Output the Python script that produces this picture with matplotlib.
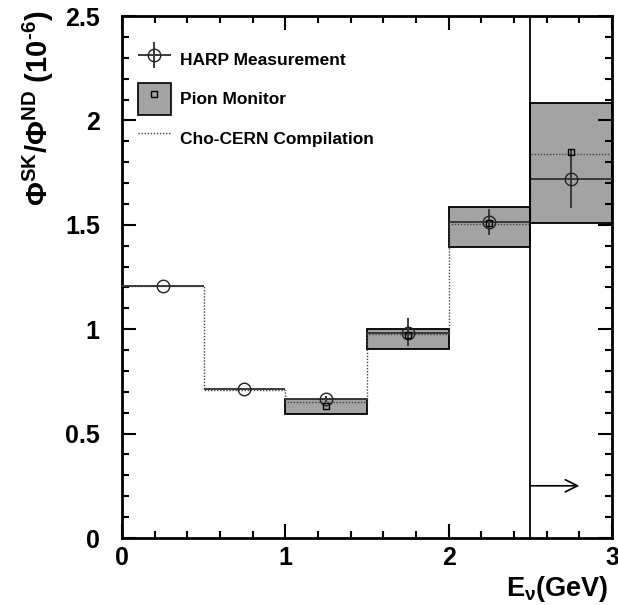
import matplotlib
matplotlib.use("Agg")
import matplotlib.pyplot as plt
import numpy as np
from matplotlib.patches import Patch
from matplotlib.lines import Line2D
from matplotlib.legend_handler import HandlerErrorbar, HandlerTuple

plt.rcParams['font.family'] = ['Liberation Sans', 'DejaVu Sans']
plt.rcParams['font.weight'] = 'bold'
plt.rcParams['mathtext.fontset'] = 'custom'
plt.rcParams['mathtext.rm'] = 'Liberation Sans:bold'
plt.rcParams['mathtext.it'] = 'Liberation Sans:bold'
plt.rcParams['mathtext.bf'] = 'Liberation Sans:bold'
plt.rcParams['mathtext.sf'] = 'Liberation Sans:bold'

# ---- data ----
bin_edges = [0.0, 0.5, 1.0, 1.5, 2.0, 2.5, 3.0]
harp = [1.205, 0.713, 0.665, 0.983, 1.515, 1.720]
harp_err_lo = [0.005, 0.005, 0.015, 0.062, 0.064, 0.140]
harp_err_hi = [0.005, 0.005, 0.015, 0.071, 0.062, 0.140]
pion_edges = [1.0, 1.5, 2.0, 2.5, 3.0]
pion = [0.634, 0.972, 1.510, 1.847]
pion_lo = [0.592, 0.905, 1.394, 1.507]
pion_hi = [0.666, 1.002, 1.587, 2.082]
cho_cern = [1.205, 0.710, 0.653, 0.977, 1.502, 1.839]
cut_energy = 2.5
arrow_y = 0.25
arrow_end = 2.8

edges = np.array(bin_edges)
centers = 0.5 * (edges[:-1] + edges[1:])
widths = np.diff(edges)
pe = np.array(pion_edges)
pc = 0.5 * (pe[:-1] + pe[1:])
pw = np.diff(pe)

fig = plt.figure(figsize=(6.18, 6.05), dpi=100)
ax = fig.add_axes([122/618, 1-538/605, 490/618, 522/605])

box_color = '#a3a3a3'
# Pion monitor boxes
ax.bar(pc, np.array(pion_hi) - np.array(pion_lo), bottom=pion_lo, width=pw,
       color=box_color, edgecolor='black', linewidth=1.3, zorder=1)

# HARP measurement
harp_eb = ax.errorbar(centers, harp, xerr=widths/2,
                      yerr=[harp_err_lo, harp_err_hi], fmt='o', ms=9,
                      mfc='none', mec='#222222', mew=1.0,
                      ecolor='#3a3a3a', elinewidth=1.4, capsize=0, zorder=3,
                      label='HARP Measurement')

# Pion monitor markers
ax.plot(pc, pion, 's', ms=4.5, mfc='none', mec='black', mew=1.0, zorder=4)

# Cho-CERN compilation
ax.stairs(cho_cern, edges, baseline=None, color='#444444', lw=1.0,
          linestyle=(0, (1, 1.2)), zorder=2)

# cut line and arrow
ax.axvline(cut_energy, color='black', lw=1.3, zorder=5)
ax.annotate('', xy=(arrow_end, arrow_y), xytext=(cut_energy, arrow_y),
            arrowprops=dict(arrowstyle='->', color='black', lw=1.2,
                            mutation_scale=22, shrinkA=0, shrinkB=0))

ax.set_xlim(0, 3)
ax.set_ylim(0, 2.5)
ax.set_xticks([0, 1, 2, 3])
ax.set_xticks(np.arange(0, 3.01, 0.2), minor=True)
ax.set_yticks([0, 0.5, 1, 1.5, 2, 2.5])
ax.set_yticks(np.arange(0, 2.51, 0.1), minor=True)
ax.set_xticklabels(['0', '1', '2', '3'])
ax.set_yticklabels(['0', '0.5', '1', '1.5', '2', '2.5'])
ax.tick_params(which='both', direction='in', top=True, right=True, width=1.5)
ax.tick_params(which='major', length=10, labelsize=18)
ax.tick_params(which='minor', length=5)
ax.tick_params(axis='y', which='major', pad=16)
ax.tick_params(axis='x', which='major', pad=6)
for s in ax.spines.values():
    s.set_linewidth(2)

# Legend
pion_handle = (Patch(facecolor=box_color, edgecolor='black', linewidth=1.2),
               Line2D([], [], marker='s', ls='none', ms=4.5, mfc='none',
                      mec='black', mew=1.0))
cho_handle = Line2D([], [], color='#444444', lw=1.0, linestyle=(0, (1, 1.2)))
leg = ax.legend([harp_eb, pion_handle, cho_handle],
                ['HARP Measurement', 'Pion Monitor', 'Cho-CERN Compilation'],
                handler_map={type(harp_eb): HandlerErrorbar(xerr_size=0.95, yerr_size=0.75),
                             tuple: HandlerTuple(ndivide=1, pad=0)},
                loc='upper left', bbox_to_anchor=(16/490, 1 - 28/522),
                frameon=False, borderpad=0, borderaxespad=0,
                handlelength=1.9, handleheight=2.45, labelspacing=0.42,
                handletextpad=0.52, prop={'weight': 'bold', 'size': 12.5})

fig.text(38/618, 1 - 11/605, r'$\Phi^{SK}/\Phi^{ND}$ (10$^{\text{-6}}$)',
         rotation=90, ha='center', va='top', fontsize=21, fontweight='bold')
fig.text(609/618, 1 - 604/605, r'E$_{\nu}$(GeV)', ha='right', va='bottom',
         fontsize=19.5, fontweight='bold')

fig.savefig('out.png', dpi=100)
